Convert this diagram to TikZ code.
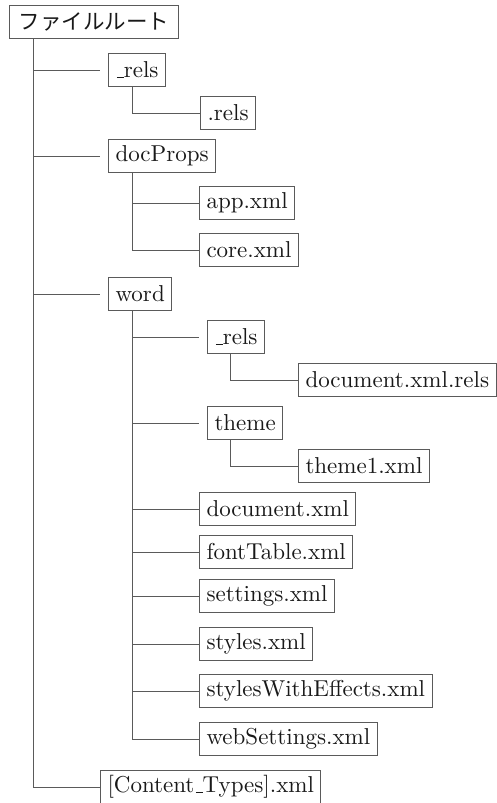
\documentclass[tikz,border=0pt]{standalone}
\usepackage{fontspec}
\newfontfamily\jpfont{Noto Sans CJK JP}
\newfontfamily\tenrm{lmroman10-regular.otf}
\newcommand\lowbar{\leavevmode\kern.06em\vbox{\hrule width.3em}}
\definecolor{linegray}{RGB}{90,90,90}
\definecolor{textgray}{RGB}{25,25,25}

\begin{document}
\begin{tikzpicture}[x=1pt, y=-1pt,
    filebox/.style={draw=linegray, line width=1pt, text=textgray, anchor=west,
        inner xsep=7pt, inner ysep=0pt, minimum height=33pt,
        font=\tenrm\fontsize{23}{27}\selectfont},
    branch/.style={draw=linegray, line width=1pt},
    gap/.style={shorten >=8pt}]
    \useasboundingbox (0, 0) rectangle (497, 803);
    % Root
    \node[filebox, inner xsep=9pt] (root) at (9, 22) {\jpfont\fontsize{21.5}{26}\selectfont ファイルルート};
    % First level
    \node[filebox] (rels) at (108, 70) {\lowbar rels};
    \node[filebox] (docprops) at (108, 156) {docProps};
    \node[filebox] (word) at (108, 294) {word};
    \node[filebox] (ctypes) at (100, 787) {[Content\lowbar Types].xml};
    % _rels and docProps contents
    \node[filebox] (dotrels) at (200, 113) {.rels};
    \node[filebox] (app) at (199, 203) {app.xml};
    \node[filebox] (core) at (199, 250) {core.xml};
    % word contents
    \node[filebox] (wrels) at (207, 337) {\lowbar rels};
    \node[filebox] (docrels) at (298, 380) {document.xml.rels};
    \node[filebox] (theme) at (207, 423) {theme};
    \node[filebox] (theme1) at (298, 466) {theme1.xml};
    \node[filebox] (document) at (199, 509) {document.xml};
    \node[filebox] (fonttable) at (199, 552) {fontTable.xml};
    \node[filebox] (settings) at (199, 596) {settings.xml};
    \node[filebox] (styles) at (199, 644) {styles.xml};
    \node[filebox] (styleseff) at (199, 691) {stylesWithEffects.xml};
    \node[filebox] (websettings) at (199, 739) {webSettings.xml};
    % Tree lines
    \draw[branch, gap] (root.south west) ++(24, 0) |- (rels.west);
    \draw[branch, gap] (root.south west) ++(24, 0) |- (docprops.west);
    \draw[branch, gap] (root.south west) ++(24, 0) |- (word.west);
    \draw[branch] (root.south west) ++(24, 0) |- (ctypes.west);
    \draw[branch] (rels.south west) ++(24, 0) |- (dotrels.west);
    \draw[branch] (docprops.south west) ++(24, 0) |- (app.west);
    \draw[branch] (docprops.south west) ++(24, 0) |- (core.west);
    \draw[branch, gap] (word.south west) ++(24, 0) |- (wrels.west);
    \draw[branch, gap] (word.south west) ++(24, 0) |- (theme.west);
    \foreach \f in {document, fonttable, settings, styles, styleseff, websettings}
        \draw[branch] (word.south west) ++(24, 0) |- (\f.west);
    \draw[branch] (wrels.south west) ++(23, 0) |- (docrels.west);
    \draw[branch] (theme.south west) ++(23, 0) |- (theme1.west);
\end{tikzpicture}
\end{document}
